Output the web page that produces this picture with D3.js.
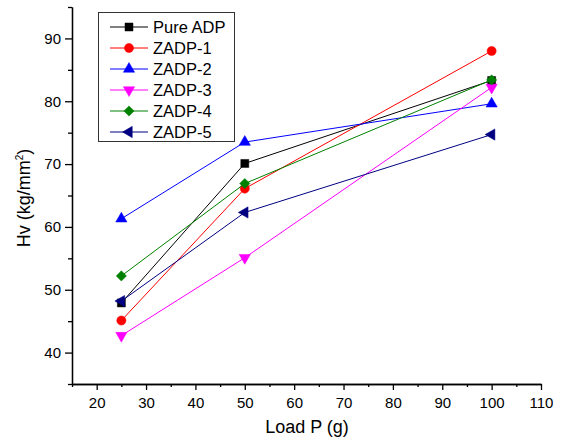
<!DOCTYPE html>
<html>
<head>
<meta charset="utf-8">
<script src="https://cdn.jsdelivr.net/npm/d3@7"></script>
<style>
  html, body { margin: 0; padding: 0; background: #fff; }
  svg { display: block; font-family: "Liberation Sans", Arial, sans-serif; }
</style>
</head>
<body>
<svg id="chart" width="562" height="438"></svg>
<script>
// Microhardness vs. applied load
const loads = [25, 50, 100];
const seriesNames = ["Pure ADP", "ZADP-1", "ZADP-2", "ZADP-3", "ZADP-4", "ZADP-5"];
const pureADP = [47.9, 70.1, 83.3];
const zadp1 = [45.1, 66.1, 88.0];
const zadp2 = [61.3, 73.5, 79.6];
const zadp3 = [42.7, 55.1, 82.2];
const zadp4 = [52.2, 66.9, 83.4];
const zadp5 = [48.2, 62.3, 74.7];
const xTicks = [20, 30, 40, 50, 60, 70, 80, 90, 100, 110];
const yTicks = [40, 50, 60, 70, 80, 90];

const seriesValues = [pureADP, zadp1, zadp2, zadp3, zadp4, zadp5];
const colors = ["#000000", "#ff0000", "#0000ff", "#ff00ff", "#008000", "#000080"];
const shapes = ["square", "circle", "up", "down", "diamond", "left"];

const svg = d3.select("#chart");
const plotL = 72, plotR = 541, plotT = 7, plotB = 384;

const x = d3.scaleLinear().domain([15, 110]).range([plotL, plotR]);
const y = d3.scaleLinear().domain([35, 95]).range([plotB, plotT]);

// Axes: major ticks labelled, minor ticks halfway between
const xAxis = d3.axisBottom(x).tickValues(xTicks).tickSize(6).tickSizeOuter(0).tickPadding(7);
const xMinor = d3.axisBottom(x).tickValues(d3.range(15, 111, 10)).tickSize(3).tickSizeOuter(0).tickFormat("");
const yAxis = d3.axisLeft(y).tickValues(yTicks).tickSize(7).tickSizeOuter(0).tickPadding(4);
const yMinor = d3.axisLeft(y).tickValues(d3.range(35, 96, 10)).tickSize(4).tickSizeOuter(0).tickFormat("");

function styleAxis(g) {
  g.selectAll("path.domain").attr("stroke", "#000").attr("stroke-width", 1.3);
  g.selectAll(".tick line").attr("stroke", "#000").attr("stroke-width", 1.3);
  g.selectAll(".tick text").attr("fill", "#000").style("font-size", "15px")
    .style("font-family", "Liberation Sans, Arial, sans-serif");
}

svg.append("g").attr("transform", `translate(0,${plotB})`).call(xMinor).call(styleAxis);
svg.append("g").attr("transform", `translate(0,${plotB})`).call(xAxis).call(styleAxis);
svg.append("g").attr("transform", `translate(${plotL},0)`).call(yMinor).call(styleAxis);
svg.append("g").attr("transform", `translate(${plotL},0)`).call(yAxis).call(styleAxis);

// Axis titles
svg.append("text")
  .attr("x", 307).attr("y", 433)
  .attr("text-anchor", "middle").style("font-size", "18px")
  .text("Load P (g)");

const yt = svg.append("text")
  .attr("transform", `translate(30,198) rotate(-90)`)
  .attr("text-anchor", "middle").style("font-size", "18px");
yt.append("tspan").text("Hv (kg/mm");
yt.append("tspan").attr("dy", -7).style("font-size", "10px").text("2");
yt.append("tspan").attr("dy", 7).text(")");

// Marker shapes
const sym = {
  square: d3.symbol(d3.symbolSquare, 64),
  circle: d3.symbol(d3.symbolCircle, 66),
  up: d3.symbol(d3.symbolTriangle, 55),
  down: d3.symbol(d3.symbolTriangle, 55),
  diamond: d3.symbol(d3.symbolSquare, 52),
  left: d3.symbol(d3.symbolTriangle, 55)
};
const rot = { square: 0, circle: 0, up: 0, down: 180, diamond: 45, left: -90 };

function marker(g, shape, color, cx, cy) {
  g.append("path")
    .attr("d", sym[shape]())
    .attr("transform", `translate(${cx},${cy}) rotate(${rot[shape]})`)
    .attr("fill", color).attr("stroke", color).attr("stroke-width", 0.5);
}

const line = d3.line().x((d, i) => x(loads[i])).y(d => y(d));

seriesValues.forEach((vals, k) => {
  const g = svg.append("g");
  g.append("path").datum(vals).attr("d", line)
    .attr("fill", "none").attr("stroke", colors[k]).attr("stroke-width", 1);
  vals.forEach((v, i) => marker(g, shapes[k], colors[k], x(loads[i]), y(v)));
});

// Legend
const lg = svg.append("g");
lg.append("rect").attr("x", 98.5).attr("y", 12.5).attr("width", 136).attr("height", 129)
  .attr("fill", "#fff").attr("stroke", "#333").attr("stroke-width", 1);
seriesNames.forEach((name, k) => {
  const ry = 27 + k * 21;
  lg.append("line").attr("x1", 110).attr("x2", 148).attr("y1", ry).attr("y2", ry)
    .attr("stroke", colors[k]).attr("stroke-width", 1);
  marker(lg, shapes[k], colors[k], 129, ry);
  lg.append("text").attr("x", 153).attr("y", ry + 6).style("font-size", "16.5px").text(name);
});
</script>
</body>
</html>
